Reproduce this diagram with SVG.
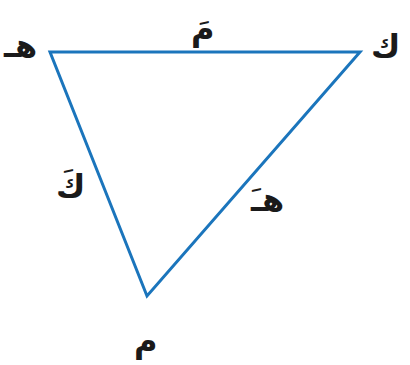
<svg xmlns="http://www.w3.org/2000/svg" width="410" height="365" viewBox="0 0 410 365">
<style>
.lbl{font-family:"DejaVu Sans","Noto Sans",sans-serif;font-weight:bold;font-size:32px;fill:#1a1a1a}
.edge{fill:none;stroke:#1b75bc;stroke-width:3;stroke-linejoin:miter}
</style>
<g id="connectors">
<polygon class="edge" points="50,52 360,52 147,296"/>
</g>
<g id="node-h"><text class="lbl" x="4" y="57">هـ</text></g>
<g id="node-k"><text class="lbl" x="371" y="57">ك</text></g>
<g id="node-m"><text class="lbl" x="134" y="352">م</text></g>
<g id="label-top"><text class="lbl" x="191" y="40">مَ</text></g>
<g id="label-left"><text class="lbl" x="56" y="197">كَ</text></g>
<g id="label-right"><text class="lbl" x="251" y="211">هـَ</text></g>
</svg>
